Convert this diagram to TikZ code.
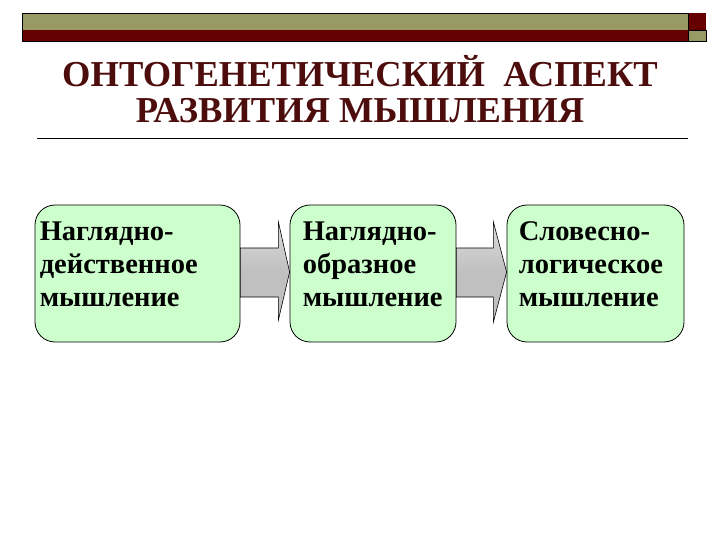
\documentclass[tikz,border=0pt]{standalone}
\usepackage{fontspec}
\setmainfont{Liberation Serif}
\usetikzlibrary{calc}
\definecolor{barolive}{RGB}{153,153,102}
\definecolor{barred}{RGB}{102,0,0}
\definecolor{titlered}{RGB}{77,13,13}
\definecolor{boxgreen}{RGB}{204,255,204}
\definecolor{arrowgray}{RGB}{192,192,192}
\tikzset{
  stage/.style={draw=black, line width=0.8pt, fill=boxgreen, rounded corners=20pt, inner sep=0pt},
  stagetext/.style={anchor=north west, align=left, inner sep=0pt, font=\fontsize{28.5}{33}\selectfont\bfseries, text=black},
  blockarrow/.style={draw=black, line width=0.6pt, top color=arrowgray!55, bottom color=arrowgray, middle color=arrowgray},
  titletext/.style={align=center, inner sep=0pt, font=\fontsize{36.5}{36}\selectfont\bfseries, text=titlered}
}
\begin{document}
\begin{tikzpicture}[x=1pt, y=-1pt]
  \useasboundingbox (0,0) rectangle (720,540);
  % top bar
  \fill[barolive] (22,13) rectangle (688,30);
  \fill[barred] (22,30) rectangle (688,41);
  \fill[barred] (688,13) rectangle (706,30);
  \fill[barolive] (688,30) rectangle (706,41);
  \draw[line width=0.6pt] (22,13) rectangle (688,41);
  \draw[line width=0.6pt] (688,30) rectangle (706,41);
  % title
  \node[titletext, anchor=north] (title) at (360,55) {ОНТОГЕНЕТИЧЕСКИЙ~ АСПЕКТ\\РАЗВИТИЯ МЫШЛЕНИЯ};
  \coordinate (ruleL) at (37,138);
  \coordinate (ruleR) at (688,138);
  \draw[line width=0.8pt] (ruleL) -- (ruleR);
  % stages
  \node[stage, minimum width=205pt, minimum height=137pt] (s1) at (137.5,273.5) {};
  \node[stage, minimum width=166pt, minimum height=137pt] (s2) at (373,273.5) {};
  \node[stage, minimum width=177pt, minimum height=137pt] (s3) at (595.5,273.5) {};
  \node[stagetext] (t1) at ([xshift=5pt, yshift=-17pt]s1.north west) {Наглядно-\\действенное\\мышление};
  \node[stagetext] (t2) at ([xshift=13pt, yshift=-17pt]s2.north west) {Наглядно-\\образное\\мышление};
  \node[stagetext] (t3) at ([xshift=12pt, yshift=-17pt]s3.north west) {Словесно-\\логическое\\мышление};
  % arrows
  \draw[blockarrow] ($(s1.east)+(0,-25.5)$) -- ($(s1.east)+(38,-25.5)$) -- ($(s1.east)+(38,-51.5)$)
    -- ($(s2.west)+(0,-1.5)$) -- ($(s1.east)+(38,46.5)$) -- ($(s1.east)+(38,23.5)$) -- ($(s1.east)+(0,23.5)$) -- cycle;
  \draw[blockarrow] ($(s2.east)+(0,-25.5)$) -- ($(s2.east)+(37,-25.5)$) -- ($(s2.east)+(37,-51.5)$)
    -- ($(s3.west)+(0,-1.5)$) -- ($(s2.east)+(37,48.5)$) -- ($(s2.east)+(37,23.5)$) -- ($(s2.east)+(0,23.5)$) -- cycle;
\end{tikzpicture}
\end{document}
